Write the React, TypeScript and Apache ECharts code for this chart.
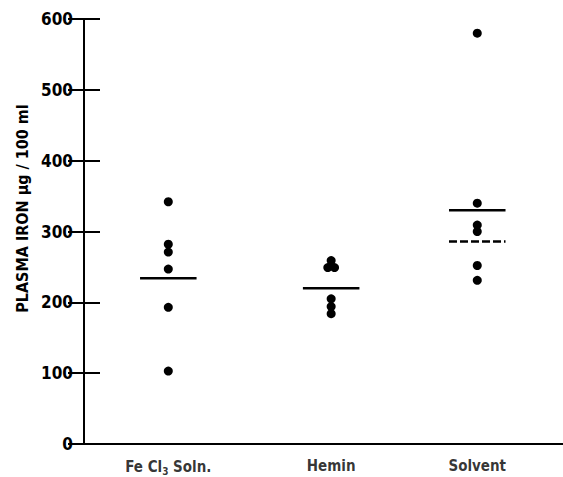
import React, { useEffect, useRef } from "react";
import * as echarts from "echarts";

const categories = ["Fe Cl{sub|3} Soln.", "Hemin", "Solvent"];
const categoryX = [1.76, 5.16, 8.21];
const feValues = [342, 282, 271, 247, 193, 103];
const heminValues = [259, 249, 249, 205, 194, 184];
const heminJitter = [0, -0.07, 0.07, 0, 0, 0];
const solventValues = [580, 340, 309, 300, 252, 231];
const groupMeans = [234, 220, 330];
const solventDashedMean = 286;
const yMin = 0;
const yMax = 600;
const yInterval = 100;

const FONT = "'Liberation Sans Narrow', 'DejaVu Sans Condensed', 'Liberation Sans', sans-serif";
const HALF = 0.59;

export default function App() {
  const ref = useRef<HTMLDivElement>(null);
  useEffect(() => {
    if (!ref.current) return;
    const chart = echarts.init(ref.current, null, { renderer: "svg" });
    const dots: number[][] = [];
    feValues.forEach((v) => dots.push([categoryX[0], v]));
    heminValues.forEach((v, i) => dots.push([categoryX[1] + heminJitter[i], v]));
    solventValues.forEach((v) => dots.push([categoryX[2], v]));

    const meanSeries = groupMeans.map((m, i) => ({
      type: "line",
      data: [
        [categoryX[i] - HALF, m],
        [categoryX[i] + HALF, m],
      ],
      symbol: "none",
      lineStyle: { color: "#000", width: 2.5 },
      z: 3,
    }));

    chart.setOption({
      animation: false,
      grid: { left: 84, top: 19, bottom: 33, right: -2 },
      xAxis: [
        {
          type: "value",
          min: 0,
          max: 10,
          position: "bottom",
          axisLine: { show: true, lineStyle: { color: "#000", width: 2 } },
          axisTick: { show: false },
          axisLabel: { show: false },
          splitLine: { show: false },
        },
        {
          type: "value",
          min: 0,
          max: 10,
          position: "top",
          axisLine: { show: true, lineStyle: { color: "#000", width: 2 } },
          axisTick: { show: false },
          axisLabel: { show: false },
          splitLine: { show: false },
        },
      ],
      yAxis: [
        {
          type: "value",
          min: yMin,
          max: yMax,
          interval: yInterval,
          position: "left",
          name: "PLASMA IRON µg / 100 ml",
          nameLocation: "middle",
          nameGap: 52,
          nameTextStyle: {
            fontFamily: FONT,
            fontWeight: "bold",
            fontSize: 16,
            color: "#000",
            padding: [0, 0, 0, 46],
          },
          axisLine: { show: true, lineStyle: { color: "#000", width: 2 } },
          axisTick: { show: true, inside: true, length: 16, lineStyle: { color: "#000", width: 2 } },
          axisLabel: {
            margin: 11,
            fontFamily: FONT,
            fontWeight: "bold",
            fontSize: 17,
            color: "#000",
          },
          splitLine: { show: false },
        },
        {
          type: "value",
          min: yMin,
          max: yMax,
          interval: yInterval,
          position: "right",
          axisLine: { show: true, lineStyle: { color: "#000", width: 2 } },
          axisTick: { show: true, inside: true, length: 16, lineStyle: { color: "#000", width: 2 } },
          axisLabel: { show: false },
          splitLine: { show: false },
        },
      ],
      series: [
        {
          type: "scatter",
          data: dots,
          symbol: "circle",
          symbolSize: 9,
          itemStyle: { color: "#000", opacity: 1 },
          z: 4,
        },
        ...meanSeries,
        {
          type: "line",
          data: [
            [categoryX[2] - HALF, solventDashedMean],
            [categoryX[2] + HALF, solventDashedMean],
          ],
          symbol: "none",
          lineStyle: { color: "#000", width: 2.5, type: [8, 3] },
          z: 3,
        },
        {
          type: "scatter",
          silent: true,
          symbolSize: 0,
          data: categories.map((c, i) => ({ value: [categoryX[i], yMin], name: c })),
          label: {
            show: true,
            position: "bottom",
            distance: 14,
            formatter: (p: any) => p.name,
            fontFamily: FONT,
            fontWeight: "bold",
            fontSize: 15,
            color: "#000",
            rich: {
              sub: {
                fontFamily: FONT,
                fontWeight: "bold",
                fontSize: 10,
                color: "#000",
                padding: [8, 0, 0, 0],
              },
            },
          },
        },
      ],
    });
    return () => chart.dispose();
  }, []);
  return (
    <div
      ref={ref}
      style={{ position: "fixed", left: 0, top: 0, width: 563, height: 477, background: "#fff" }}
    />
  );
}
